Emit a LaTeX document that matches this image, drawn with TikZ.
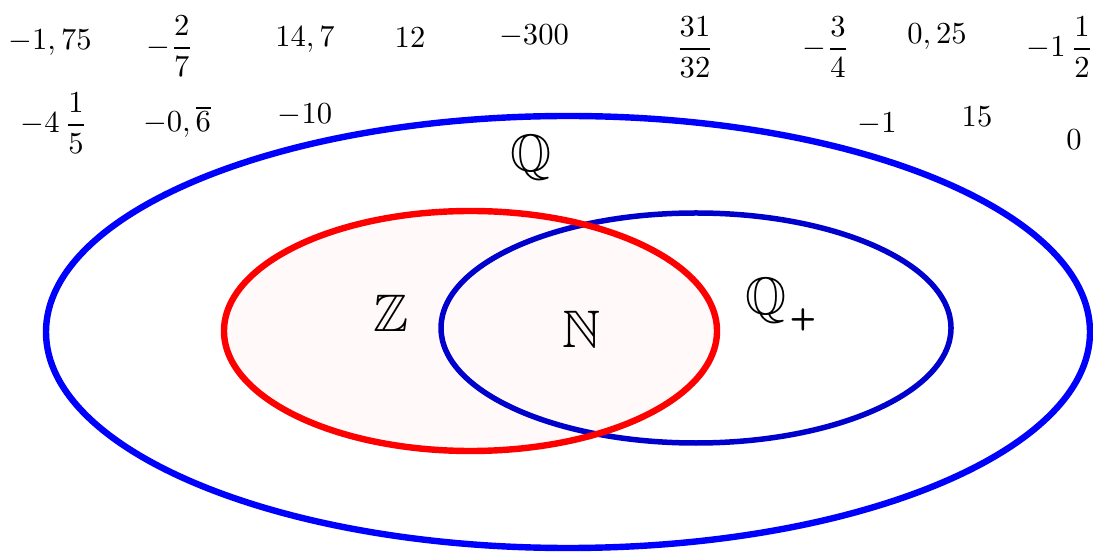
\documentclass[tikz,border=0pt]{standalone}
\usepackage{amsmath,amssymb}
\usepackage{tikz}

\begin{document}
\begin{tikzpicture}[x=0.0115cm,y=-0.0115cm,line width=2.1pt,
    num/.style={inner sep=0pt,anchor=center},
    conj/.style={inner sep=0pt,font=\LARGE}]
  \useasboundingbox (0,0) rectangle (1093,554);
  % conjuntos
  \fill[red!2.5] (470.5,331) ellipse[x radius=246.5,y radius=120];
  \draw[blue] (568,332) ellipse[x radius=522,y radius=216];
  \draw[blue!80!black,line width=1.8pt] (696,328) ellipse[x radius=255,y radius=115];
  \draw[red] (470.5,331) ellipse[x radius=246.5,y radius=120];
  \node[conj] (Q) at (531,158) {$\mathbb{Q}$};
  \node[conj] (Z) at (391,313) {$\mathbb{Z}$};
  \node[conj] (N) at (582,329) {$\mathbb{N}$};
  \node[conj] (Qp) at (766,301) {$\mathbb{Q}$};
  \node[inner sep=0pt,font=\sffamily\bfseries] (plus) at (803,320) {+};
  % numeros, primera fila
  \foreach \n/\x/\y/\t in {a/50/43/{-1,75},b/170/46/{-\dfrac{2}{7}},c/305/40/{14,7},
      d/410/38/{12},e/534/36/{-300},f/695/47/{\dfrac{31}{32}},g/826/47/{-\dfrac{3}{4}},
      h/937/37/{0,25},i/1060/47/{-1\,\dfrac{1}{2}}}
    \node[num] (r1\n) at (\x,\y) {$\t$};
  % segunda fila
  \foreach \n/\x/\y/\t in {a/54/123/{-4\,\dfrac{1}{5}},b/177/122/{-0,\overline{6}},c/305/115/{-10},
      d/877/124/{-1},e/977/117/{15},f/1074/140/{0}}
    \node[num] (r2\n) at (\x,\y) {$\t$};
\end{tikzpicture}
\end{document}
